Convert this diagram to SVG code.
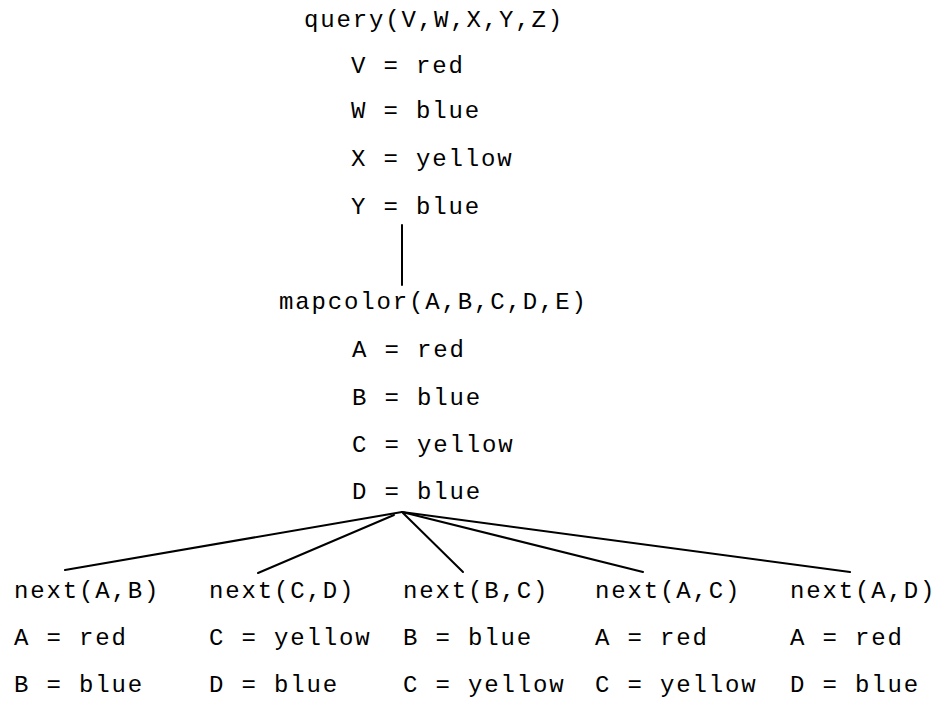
<svg xmlns="http://www.w3.org/2000/svg" width="941" height="701" viewBox="0 0 941 701">
<style>
  text { font-family: "Liberation Mono", "Courier New", monospace; font-size: 24px; letter-spacing: 1.85px; fill: #000; }
  .edge { stroke: #000; stroke-width: 2; fill: none; stroke-linecap: round; }
</style>
<rect width="941" height="701" fill="#fff"/>
<g id="connectors">
  <line class="edge" x1="402" y1="225" x2="402" y2="285"/>
  <line class="edge" x1="402" y1="512" x2="65" y2="570"/>
  <line class="edge" x1="394" y1="515" x2="258" y2="573"/>
  <line class="edge" x1="403" y1="513" x2="463" y2="572"/>
  <line class="edge" x1="402" y1="512" x2="643" y2="572"/>
  <line class="edge" x1="402" y1="512" x2="850" y2="572"/>
</g>
<g id="node-query">
  <text x="304" y="27">query(V,W,X,Y,Z)</text>
  <text x="351" y="73">V = red</text>
  <text x="351" y="118">W = blue</text>
  <text x="351" y="166">X = yellow</text>
  <text x="351" y="214">Y = blue</text>
</g>
<g id="node-mapcolor">
  <text x="279" y="309">mapcolor(A,B,C,D,E)</text>
  <text x="352" y="357">A = red</text>
  <text x="352" y="405">B = blue</text>
  <text x="352" y="452">C = yellow</text>
  <text x="352" y="499">D = blue</text>
</g>
<g id="node-next-AB">
  <text x="14" y="598">next(A,B)</text>
  <text x="14" y="645">A = red</text>
  <text x="14" y="692">B = blue</text>
</g>
<g id="node-next-CD">
  <text x="209" y="598">next(C,D)</text>
  <text x="209" y="645">C = yellow</text>
  <text x="209" y="692">D = blue</text>
</g>
<g id="node-next-BC">
  <text x="403" y="598">next(B,C)</text>
  <text x="403" y="645">B = blue</text>
  <text x="403" y="692">C = yellow</text>
</g>
<g id="node-next-AC">
  <text x="595" y="598">next(A,C)</text>
  <text x="595" y="645">A = red</text>
  <text x="595" y="692">C = yellow</text>
</g>
<g id="node-next-AD">
  <text x="790" y="598">next(A,D)</text>
  <text x="790" y="645">A = red</text>
  <text x="790" y="692">D = blue</text>
</g>
</svg>
